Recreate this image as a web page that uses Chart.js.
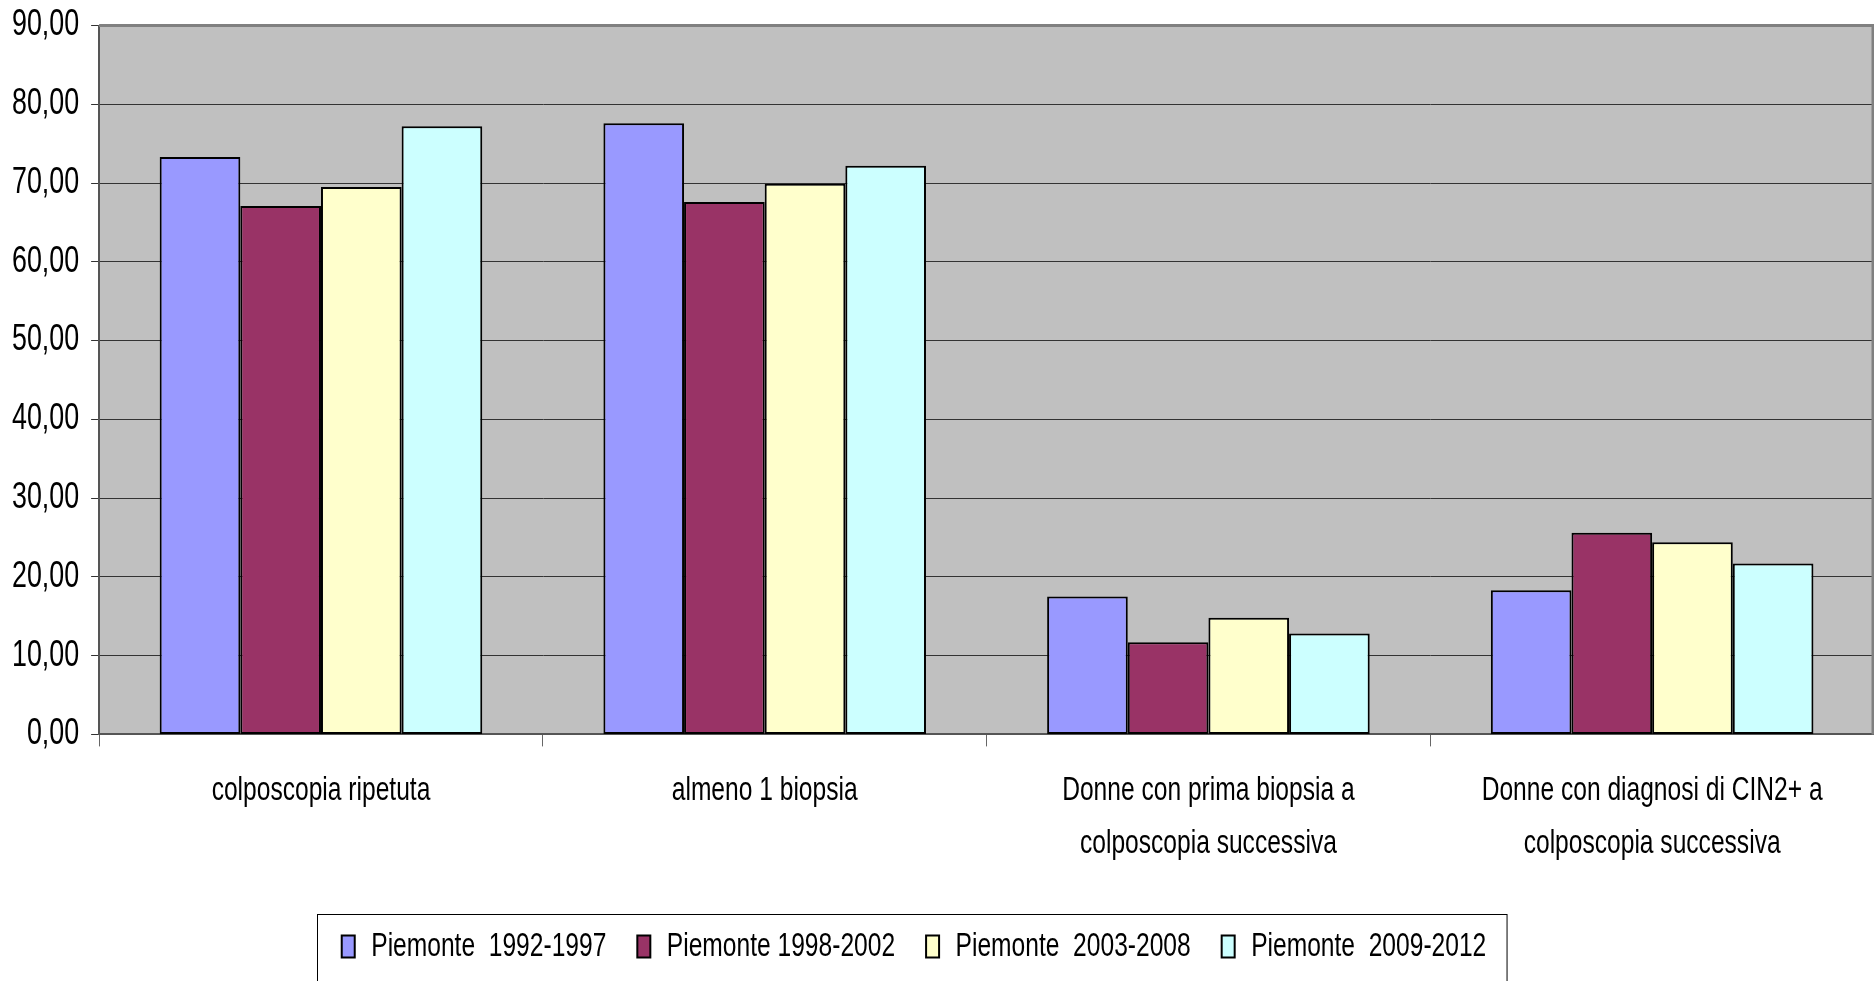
<!DOCTYPE html>
<html>
<head>
    <meta charset="utf-8">
    <title>colposcopia</title>
    <script src="https://cdn.jsdelivr.net/npm/chart.js@4.4.1/dist/chart.umd.min.js"></script>
    <style>
        body { margin: 0; background: #fff; }
        canvas { display: block; }
    </style>
</head>
<body>
<canvas id="myChart" width="1874" height="981"></canvas>

<script>
    // categorie (asse x)
    let categories = [
        "colposcopia ripetuta",
        "almeno 1 biopsia",
        ["Donne con prima biopsia a", "colposcopia successiva"],
        ["Donne con diagnosi di CIN2+ a", "colposcopia successiva"]
    ];
    let seriesNames = ["Piemonte  1992-1997", "Piemonte 1998-2002", "Piemonte  2003-2008", "Piemonte  2009-2012"];
    let p1992 = [73.3, 77.6, 17.5, 18.3];
    let p1998 = [67.1, 67.6, 11.7, 25.6];
    let p2003 = [69.5, 69.9, 14.8, 24.4];
    let p2009 = [77.2, 72.2, 12.8, 21.7];
    let colors = ["#9999FF", "#993366", "#FFFFCC", "#CCFFFF"];

    const font = "'Liberation Sans', Arial, sans-serif";
    const SX = 0.745;       // testo "narrow": compressione orizzontale
    const LEGEND_SHIFT = -23;

    // niente Arial Narrow: comprimo il testo sul contesto del canvas
    let canvas = document.getElementById("myChart");
    let ctx2d = canvas.getContext("2d");
    let proto = CanvasRenderingContext2D.prototype;
    ctx2d.fillText = function (t, x, y) {
        this.save();
        this.translate(x, y);
        this.scale(SX, 1);
        proto.fillText.call(this, t, 0, 0);
        this.restore();
    };
    ctx2d.measureText = function (t) {
        let m = proto.measureText.call(this, t);
        return {
            width: m.width * SX,
            actualBoundingBoxAscent: m.actualBoundingBoxAscent,
            actualBoundingBoxDescent: m.actualBoundingBoxDescent,
            actualBoundingBoxLeft: m.actualBoundingBoxLeft * SX,
            actualBoundingBoxRight: m.actualBoundingBoxRight * SX
        };
    };

    // sfondo grigio dell'area del grafico + bordo della legenda
    const plotBg = {
        id: 'plotBg',
        beforeDraw(chart) {
            let a = chart.chartArea, ctx = chart.ctx;
            ctx.save();
            ctx.fillStyle = "#C0C0C0";
            ctx.fillRect(a.left, a.top, a.right - a.left, a.bottom - a.top);
            ctx.restore();
            if (!chart.legend._shifted) {
                chart.legend.left += LEGEND_SHIFT;
                chart.legend.right += LEGEND_SHIFT;
                chart.legend._shifted = true;
            }
        },
        afterDraw(chart) {
            let a = chart.chartArea, ctx = chart.ctx;
            ctx.save();
            ctx.strokeStyle = "#808080";
            ctx.lineWidth = 3;
            ctx.beginPath();
            ctx.moveTo(a.left, a.top);
            ctx.lineTo(a.right - 1, a.top);
            ctx.lineTo(a.right - 1, a.bottom);
            ctx.stroke();
            // cornice legenda (le hitbox non seguono lo spostamento)
            let boxes = chart.legend.legendHitBoxes;
            if (boxes && boxes.length) {
                let l = Math.min(...boxes.map(b => b.left)) + LEGEND_SHIFT - 25;
                let r = Math.max(...boxes.map(b => b.left + b.width)) + LEGEND_SHIFT + 20;
                let t = boxes[0].top - 16;
                ctx.strokeStyle = "#000";
                ctx.lineWidth = 1;
                ctx.strokeRect(Math.round(l) + 0.5, Math.round(t) + 0.5, r - l, chart.height);
            }
            ctx.restore();
        }
    };

    let datasets = [p1992, p1998, p2003, p2009].map(function (d, i) {
        return {
            label: seriesNames[i],
            data: d,
            backgroundColor: colors[i],
            borderColor: "#000",
            borderWidth: 2,
            borderSkipped: false
        };
    });

    new Chart(canvas, {
        type: "bar",
        data: { labels: categories, datasets: datasets },
        plugins: [plotBg],
        options: {
            responsive: false,
            animation: false,
            categoryPercentage: 0.727,
            barPercentage: 1,
            layout: { padding: { left: 0, top: 0, right: 0, bottom: 8 } },
            scales: {
                x: {
                    grid: { offset: true, drawOnChartArea: false, tickLength: 12, color: "#666", lineWidth: 1 },
                    border: { color: "#555", width: 2 },
                    ticks: { color: "#000", font: { family: font, size: 33, lineHeight: 1.6 }, padding: 18, maxRotation: 0, autoSkip: false },
                    afterFit: function (scale) { scale.height += 11; }
                },
                y: {
                    min: 0, max: 90,
                    grid: { color: "#333", lineWidth: 1, tickLength: 8 },
                    border: { color: "#555", width: 2 },
                    ticks: {
                        stepSize: 10, color: "#000", padding: 12,
                        font: { family: font, size: 36, lineHeight: 0.75 },
                        callback: function (v) { return v.toFixed(2).replace(".", ","); }
                    }
                }
            },
            plugins: {
                tooltip: { enabled: false },
                legend: {
                    position: "bottom",
                    labels: {
                        color: "#000",
                        boxWidth: 13, boxHeight: 22,
                        padding: 31,
                        font: { family: font, size: 33 }
                    }
                }
            }
        }
    });
</script>
</body>
</html>
